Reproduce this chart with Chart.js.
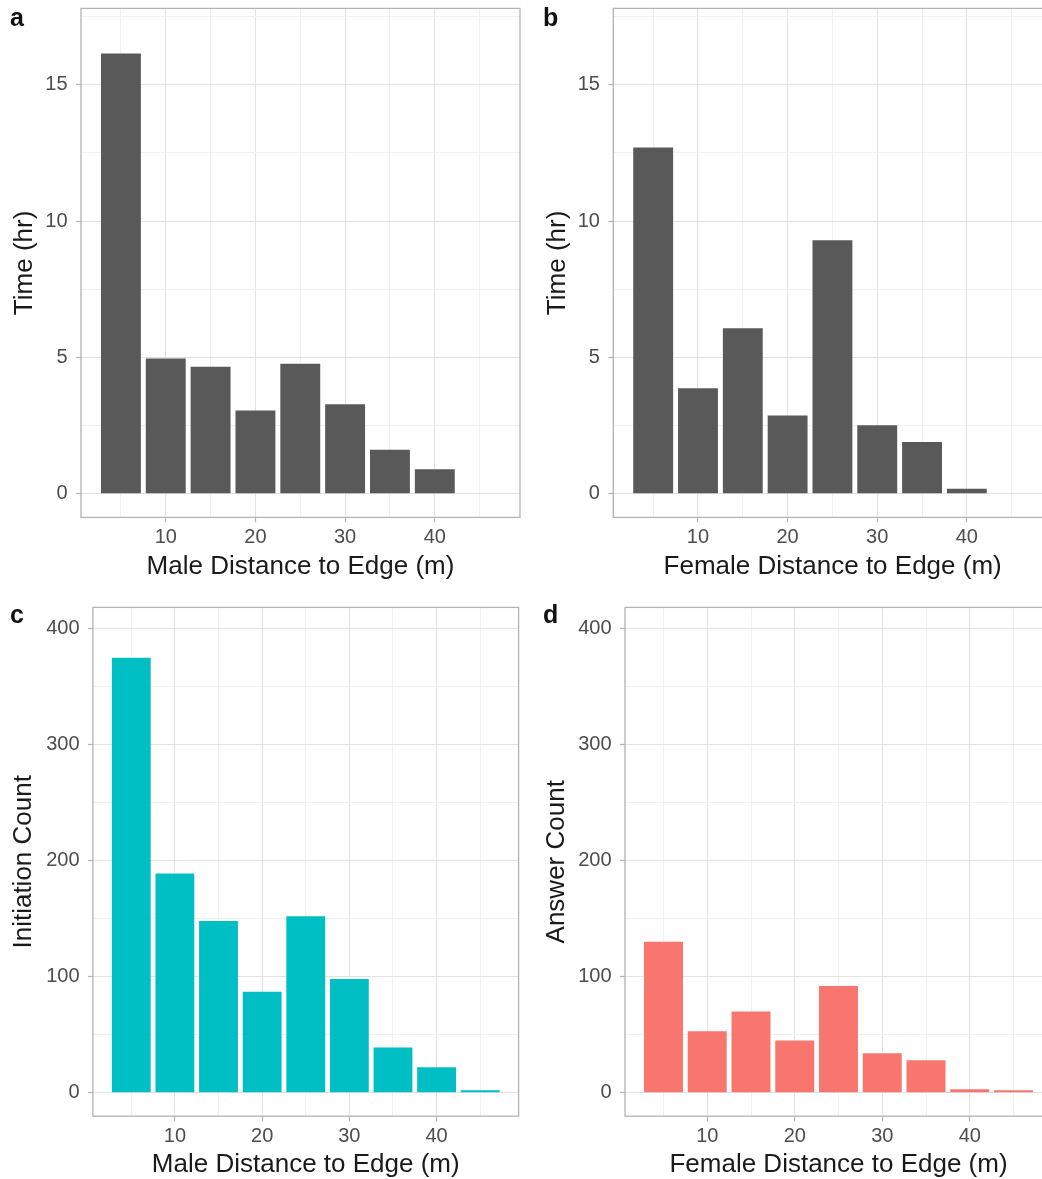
<!DOCTYPE html>
<html>
<head>
<meta charset="utf-8">
<script src="https://cdn.jsdelivr.net/npm/chart.js@4.4.1/dist/chart.umd.min.js"></script>
<style>
  html, body { margin: 0; padding: 0; background: #fff; overflow: hidden; width: 1042px; height: 1179px; }
  canvas { position: absolute; }
  .tag { position: absolute; font: bold 25px "Liberation Sans", Arial, sans-serif; color: #111; line-height: 26px; }
</style>
</head>
<body>
<canvas id="pa" width="530" height="595" style="left:0;top:0"></canvas>
<canvas id="pb" width="532" height="595" style="left:530px;top:0"></canvas>
<canvas id="pc" width="530" height="584" style="left:0;top:595px"></canvas>
<canvas id="pd" width="532" height="584" style="left:530px;top:595px"></canvas>
<div class="tag" style="left:10px;top:4px">a</div>
<div class="tag" style="left:543px;top:4px">b</div>
<div class="tag" style="left:10px;top:601px">c</div>
<div class="tag" style="left:543px;top:601px">d</div>
<script>
// bins of 5 m, labelled by their centre
const binCenters = [5, 10, 15, 20, 25, 30, 35, 40, 45];
const maleTimeHr = [16.15, 4.96, 4.66, 3.05, 4.77, 3.28, 1.61, 0.9, 0];
const femaleTimeHr = [12.7, 3.87, 6.07, 2.87, 9.3, 2.51, 1.9, 0.18, 0];
const maleInitiationCount = [375, 189, 148, 87, 152, 98, 39, 22, 2];
const femaleAnswerCount = [130, 53, 70, 45, 92, 34, 28, 3, 2];

const xTicks = [5, 10, 15, 20, 25, 30, 35, 40, 45];   // labels only on multiples of 10
const timeTicks = [0, 2.5, 5, 7.5, 10, 12.5, 15, 17.5]; // labels on multiples of 5
const countTicks = [0, 50, 100, 150, 200, 250, 300, 350, 400]; // labels on multiples of 100

const FONT = '"Liberation Sans", Arial, sans-serif';
const MAJOR = '#E2E2E2', MINOR = '#F1F1F1', FRAME = '#B3B3B3', TEXT = '#4D4D4D';

// panel frame drawn on top, like ggplot's panel.border
const frame = {
  id: 'frame',
  afterDatasetsDraw(chart) {
    const { ctx, chartArea: a } = chart;
    ctx.save();
    ctx.strokeStyle = FRAME;
    ctx.lineWidth = 1.3;
    ctx.strokeRect(a.left, a.top, a.right - a.left, a.bottom - a.top);
    ctx.restore();
  }
};

function panel(id, values, color, yTitle, xTitle, yTicks, yStep, yRange, xRange, g) {
  const isMajorX = v => v % 10 === 0;
  const isMajorY = v => v % yStep === 0;
  return new Chart(document.getElementById(id), {
    type: 'bar',
    data: {
      datasets: [{
        data: binCenters.map((x, i) => ({ x: x, y: values[i] })),
        backgroundColor: color,
        borderWidth: 0,
        barPercentage: 0.89,
        categoryPercentage: 1
      }]
    },
    options: {
      responsive: false,
      animation: false,
      events: [],
      layout: { padding: { top: g.top, right: g.right, left: 0, bottom: 0 } },
      plugins: { legend: { display: false }, tooltip: { enabled: false } },
      scales: {
        x: {
          type: 'linear',
          min: xRange[0],
          max: xRange[1],
          offset: false,
          afterBuildTicks: s => { s.ticks = xTicks.map(v => ({ value: v })); },
          afterFit: s => { s.height = g.xh; s.paddingLeft = 0; s.paddingRight = 0; },
          border: { display: false },
          grid: {
            offset: false,
            color: c => isMajorX(c.tick.value) ? MAJOR : MINOR,
            lineWidth: 1,
            tickLength: 5,
            tickWidth: 1.2,
            tickColor: c => isMajorX(c.tick.value) ? FRAME : 'rgba(0,0,0,0)'
          },
          ticks: {
            autoSkip: false,
            maxRotation: 0,
            padding: 3,
            color: TEXT,
            font: { family: FONT, size: 20 },
            callback: v => isMajorX(v) ? String(v) : ''
          },
          title: {
            display: true,
            text: xTitle,
            color: '#1A1A1A',
            font: { family: FONT, size: 26, lineHeight: 1 },
            padding: { top: 0, bottom: g.xt }
          }
        },
        y: {
          min: yRange[0],
          max: yRange[1],
          afterBuildTicks: s => { s.ticks = yTicks.map(v => ({ value: v })); },
          afterFit: s => { s.width = g.yw; s.paddingTop = 0; s.paddingBottom = 0; },
          border: { display: false },
          grid: {
            color: c => isMajorY(c.tick.value) ? MAJOR : MINOR,
            lineWidth: 1,
            tickLength: 5,
            tickWidth: 1.2,
            tickColor: c => isMajorY(c.tick.value) ? FRAME : 'rgba(0,0,0,0)'
          },
          ticks: {
            autoSkip: false,
            padding: 8.4,
            color: TEXT,
            font: { family: FONT, size: 20 },
            callback: v => isMajorY(v) ? String(v) : ''
          },
          title: {
            display: true,
            text: yTitle,
            color: '#1A1A1A',
            font: { family: FONT, size: 26, lineHeight: 1 },
            padding: { top: g.yt, bottom: 0 }
          }
        }
      }
    },
    plugins: [frame]
  });
}

panel('pa', maleTimeHr, '#595959', 'Time (hr)', 'Male Distance to Edge (m)',
  timeTicks, 5, [-0.87, 17.8], [0.55, 49.5],
  { top: 8.4, right: 10, yw: 81, xh: 77.6, yt: 11.5, xt: 15.6 });
panel('pb', femaleTimeHr, '#595959', 'Time (hr)', 'Female Distance to Edge (m)',
  timeTicks, 5, [-0.87, 17.8], [0.55, 49.5],
  { top: 8.4, right: 10, yw: 83.3, xh: 77.6, yt: 15, xt: 15.6 });
panel('pc', maleInitiationCount, '#00BFC4', 'Initiation Count', 'Male Distance to Edge (m)',
  countTicks, 100, [-20.3, 418.3], [0.6, 49.4],
  { top: 12.4, right: 11.4, yw: 92.9, xh: 62.8, yt: 10.6, xt: 1 });
panel('pd', femaleAnswerCount, '#F8766D', 'Answer Count', 'Female Distance to Edge (m)',
  countTicks, 100, [-20.3, 418.3], [0.6, 49.4],
  { top: 12.4, right: 10, yw: 95, xh: 62.8, yt: 13.7, xt: 1 });
</script>
</body>
</html>
